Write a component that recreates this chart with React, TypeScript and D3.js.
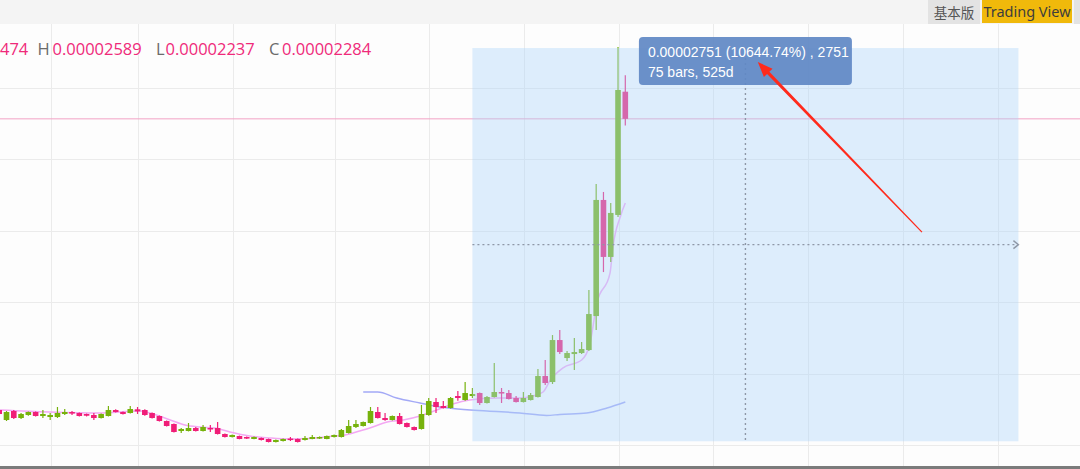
import { useEffect, useRef } from 'react';
import * as d3 from 'd3';

// weekly candles, prices in units of 1e-8
const opens = [245, 175, 238, 189, 210, 231, 203, 196, 196, 217, 231, 224, 217, 210, 189, 203, 245, 231, 224, 250, 245, 224, 203, 168, 147, 98, 98, 119, 98, 119, 119, 77, 56, 63, 56, 42, 49, 42, 21, 28, 45, 42, 35, 42, 45, 42, 56, 56, 84, 126, 133, 154, 231, 189, 175, 203, 154, 126, 112, 210, 301, 273, 259, 343, 315, 343, 364, 294, 336, 371, 364, 329, 301, 315, 336, 483, 441, 735, 609, 637, 644, 665, 903, 1716, 1317, 1611, 2474];
const highs = [252, 238, 245, 224, 235, 235, 245, 224, 266, 252, 238, 228, 220, 224, 220, 273, 250, 235, 273, 266, 250, 228, 207, 172, 150, 119, 154, 126, 140, 140, 161, 80, 74, 66, 60, 60, 52, 45, 38, 45, 56, 45, 63, 70, 60, 66, 74, 112, 175, 175, 165, 266, 266, 224, 207, 224, 158, 130, 280, 329, 329, 308, 336, 378, 441, 399, 368, 343, 574, 399, 385, 343, 371, 364, 532, 595, 770, 805, 658, 749, 721, 1085, 1828, 1772, 1695, 2787, 2589];
const lows = [210, 168, 182, 182, 205, 200, 189, 175, 189, 210, 210, 200, 200, 175, 185, 200, 228, 214, 220, 217, 205, 185, 165, 130, 88, 84, 95, 95, 95, 91, 74, 53, 53, 40, 42, 40, 32, 18, 18, 25, 28, 18, 32, 40, 42, 40, 53, 53, 80, 119, 130, 150, 185, 170, 172, 143, 122, 101, 108, 205, 224, 255, 255, 310, 310, 329, 280, 290, 332, 294, 318, 297, 297, 311, 332, 420, 427, 637, 588, 525, 637, 658, 805, 1211, 1282, 1597, 2237];
const closes = [217, 231, 189, 217, 231, 203, 217, 210, 224, 231, 220, 203, 205, 189, 217, 245, 231, 217, 252, 235, 210, 189, 168, 133, 91, 112, 119, 98, 126, 112, 77, 56, 70, 42, 45, 56, 35, 21, 35, 42, 38, 21, 49, 56, 56, 63, 70, 105, 133, 147, 161, 238, 189, 175, 203, 147, 126, 105, 217, 308, 266, 259, 329, 329, 364, 357, 294, 336, 371, 364, 322, 301, 329, 350, 483, 434, 735, 651, 644, 651, 672, 917, 1716, 1317, 1625, 2486, 2284];

// moving averages: bar index / price
const maFastIdx = [0.1, 6.9, 13.7, 19.3, 20.7, 23.5, 25.5, 27.6, 29.6, 31.7, 34.4, 37.2, 39.9, 42.7, 45.4, 47.5, 49.5, 50.9, 53.3, 55.5, 57.8, 60.1, 62.3, 64.6, 68.4, 71.5, 73.3, 74.7, 75.7, 77.4, 80.0, 81.1, 82.1, 83.9, 84.3, 85.3, 86];
const maFastVal = [245, 231, 224, 238, 224, 175, 140, 126, 119, 91, 63, 49, 42, 45, 60, 70, 98, 119, 161, 175, 203, 245, 287, 315, 329, 329, 343, 371, 455, 539, 595, 700, 994, 1204, 1387, 1597, 1695];
const maSlowIdx = [50.0, 52.0, 54.6, 57.8, 60.1, 62.3, 67.0, 71.5, 75.2, 77.0, 80.7, 83.5, 86];
const maSlowVal = [371, 371, 329, 294, 270, 256, 238, 224, 207, 214, 224, 259, 301];

const priceTicks = [0, 500, 1000, 1500, 2000, 2500, 3000];
const timeTicks = [7.1, 19, 32.1, 46.1, 59.1, 72.1, 85.1, 98.1, 111.1, 124.1, 137.2];

// legend, only the visible part of the open value is shown
const legendLabels = ['', 'H', 'L', 'C'];
const legendValues = ['474', '0.00002589', '0.00002237', '0.00002284'];

// date/price range tool
const rangeBars = [65, 140];
const rangePrices = [26, 2780];
const rangeText = ['0.00002751 (10644.74%) , 2751', '75 bars, 525d'];

// red annotation arrow (bar index, price)
const arrowTail = [126.75, 1491];
const arrowHead = [104.2, 2682];

const WIDTH = 1080;
const HEIGHT = 469;

export default function App() {
  const svgRef = useRef<SVGSVGElement>(null);

  useEffect(() => {
    document.body.style.margin = '0';
    if (!svgRef.current) return;
    const svg = d3.select(svgRef.current);
    svg.selectAll('*').remove();

    const step = 7.28;
    const lastX = 625.3;
    const n = closes.length;
    const x = d3.scaleLinear().domain([0, n - 1]).range([lastX - step * (n - 1), lastX]);
    const y = d3.scaleLinear().domain([0, 3000]).range([445, 16.6]);

    const plotTop = 24;
    const plotBottom = 466;

    svg.append('rect').attr('width', WIDTH).attr('height', HEIGHT).attr('fill', '#fdfdfd');

    // grid
    const grid = svg.append('g').attr('stroke', '#ebebeb').attr('stroke-width', 1);
    grid.selectAll('line.v')
      .data(timeTicks)
      .enter()
      .append('line')
      .attr('x1', d => Math.round(x(d)) + 0.5)
      .attr('x2', d => Math.round(x(d)) + 0.5)
      .attr('y1', plotTop)
      .attr('y2', plotBottom);
    grid.selectAll('line.h')
      .data(priceTicks)
      .enter()
      .append('line')
      .attr('x1', 0)
      .attr('x2', WIDTH)
      .attr('y1', d => Math.round(y(d)) + 0.5)
      .attr('y2', d => Math.round(y(d)) + 0.5);

    // last price line
    svg.append('line')
      .attr('x1', 0)
      .attr('x2', WIDTH)
      .attr('y1', y(closes[n - 1]))
      .attr('y2', y(closes[n - 1]))
      .attr('stroke', '#f3a3c6')
      .attr('stroke-width', 1);

    // moving averages
    const line = d3.line<number>()
      .x(d => x(d))
      .curve(d3.curveMonotoneX);
    svg.append('path')
      .attr('d', line.y((_, i) => y(maFastVal[i]))(maFastIdx))
      .attr('fill', 'none')
      .attr('stroke', '#f3a8f3')
      .attr('stroke-width', 1.5);
    svg.append('path')
      .attr('d', line.y((_, i) => y(maSlowVal[i]))(maSlowIdx))
      .attr('fill', 'none')
      .attr('stroke', '#a3a9f6')
      .attr('stroke-width', 1.5);

    // candles
    const up = '#76b20c';
    const down = '#f01e78';
    const bodyW = 5.6;
    const idx = d3.range(n);
    const candles = svg.append('g');
    candles.selectAll('line')
      .data(idx)
      .enter()
      .append('line')
      .attr('x1', i => x(i))
      .attr('x2', i => x(i))
      .attr('y1', i => y(highs[i]))
      .attr('y2', i => y(lows[i]))
      .attr('stroke', i => (closes[i] >= opens[i] ? up : down))
      .attr('stroke-width', 1.2);
    candles.selectAll('rect')
      .data(idx)
      .enter()
      .append('rect')
      .attr('x', i => x(i) - bodyW / 2)
      .attr('y', i => y(Math.max(opens[i], closes[i])))
      .attr('width', bodyW)
      .attr('height', i => Math.max(1.5, Math.abs(y(opens[i]) - y(closes[i]))))
      .attr('fill', i => (closes[i] >= opens[i] ? up : down));

    // range box
    const bx0 = x(rangeBars[0]);
    const bx1 = x(rangeBars[1]);
    const by0 = y(rangePrices[1]);
    const by1 = y(rangePrices[0]);
    svg.append('rect')
      .attr('x', bx0)
      .attr('y', by0)
      .attr('width', bx1 - bx0)
      .attr('height', by1 - by0)
      .attr('fill', 'rgb(173,212,250)')
      .attr('fill-opacity', 0.4);

    const midX = (bx0 + bx1) / 2;
    const midY = y((rangePrices[0] + rangePrices[1]) / 2);
    const dash = svg.append('g')
      .attr('stroke', '#8e97a6')
      .attr('stroke-width', 1.4)
      .attr('fill', 'none');
    dash.append('line')
      .attr('x1', bx0).attr('x2', bx1 - 1)
      .attr('y1', midY).attr('y2', midY)
      .attr('stroke-dasharray', '2,3');
    dash.append('line')
      .attr('x1', midX).attr('x2', midX)
      .attr('y1', by0).attr('y2', by1)
      .attr('stroke-dasharray', '2,3');
    dash.append('path')
      .attr('d', `M${bx1 - 5},${midY - 4}L${bx1},${midY}L${bx1 - 5},${midY + 4}`);

    // range label
    const tipW = 213;
    const tipH = 48;
    const tipY = by0 - 11;
    svg.append('rect')
      .attr('x', midX - tipW / 2)
      .attr('y', tipY)
      .attr('width', tipW)
      .attr('height', tipH)
      .attr('rx', 4)
      .attr('fill', '#5f88c4')
      .attr('fill-opacity', 0.92);
    svg.selectAll('text.tip')
      .data(rangeText)
      .enter()
      .append('text')
      .attr('x', midX - tipW / 2 + 9)
      .attr('y', (_, i) => tipY + 20 + i * 19.5)
      .attr('fill', '#ffffff')
      .attr('font-family', '"Liberation Sans", Arial, sans-serif')
      .attr('font-size', 14)
      .text(d => d);

    // red arrow
    const ax0 = x(arrowTail[0]);
    const ay0 = y(arrowTail[1]);
    const ax1 = x(arrowHead[0]);
    const ay1 = y(arrowHead[1]);
    const len = Math.hypot(ax1 - ax0, ay1 - ay0);
    const ux = (ax1 - ax0) / len;
    const uy = (ay1 - ay0) / len;
    const px = -uy;
    const py = ux;
    const headL = 15;
    const bx = ax1 - ux * headL;
    const byy = ay1 - uy * headL;
    const pts: [number, number][] = [
      [ax0 + px * 0.6, ay0 + py * 0.6],
      [bx + px * 1.6, byy + py * 1.6],
      [bx + px * 6, byy + py * 6],
      [ax1, ay1],
      [bx - px * 6, byy - py * 6],
      [bx - px * 1.6, byy - py * 1.6],
      [ax0 - px * 0.6, ay0 - py * 0.6],
    ];
    svg.append('path')
      .attr('d', 'M' + pts.map(p => p.join(',')).join('L') + 'Z')
      .attr('fill', '#ff2a1c');

    // OHLC legend
    const legendFont = '"Open Sans", "Noto Sans", sans-serif';
    const labelX = [0, 37.5, 156, 269];
    const valueX = [0, 52.5, 165.5, 282];
    const lg = svg.append('g').attr('font-family', legendFont).attr('font-size', 16.5);
    legendLabels.forEach((l, i) => {
      if (l) {
        lg.append('text').attr('x', labelX[i]).attr('y', 55).attr('fill', '#6b6b6b').text(l);
      }
      lg.append('text')
        .attr('x', valueX[i])
        .attr('y', 55)
        .attr('fill', '#ef2a7a')
        .text(legendValues[i]);
    });

    // header strip with buttons
    svg.append('rect').attr('width', WIDTH).attr('height', plotTop).attr('fill', '#f4f4f4');
    svg.append('rect').attr('x', 928).attr('y', 0).attr('width', 52).attr('height', 24).attr('fill', '#e3e3e3');
    svg.append('text')
      .attr('x', 954).attr('y', 17.5)
      .attr('text-anchor', 'middle')
      .attr('font-family', '"Noto Sans CJK SC", sans-serif')
      .attr('font-size', 13.5)
      .attr('fill', '#555')
      .text('基本版');
    svg.append('rect').attr('x', 982).attr('y', 0).attr('width', 90).attr('height', 23).attr('fill', '#f0b90b');
    svg.append('text')
      .attr('x', 1027).attr('y', 17)
      .attr('text-anchor', 'middle')
      .attr('font-family', '"Noto Sans", "Open Sans", sans-serif')
      .attr('font-size', 14.5)
      .attr('fill', '#3d3d3d')
      .text('Trading View');
    svg.append('rect').attr('x', 1074).attr('y', 0).attr('width', 20).attr('height', 24).attr('fill', '#e3e3e3');

    // bottom border
    svg.append('rect').attr('x', 0).attr('y', plotBottom).attr('width', WIDTH).attr('height', HEIGHT - plotBottom).attr('fill', '#7b7b7b');
  }, []);

  return (
    <div style={{ width: WIDTH, height: HEIGHT, overflow: 'hidden' }}>
      <svg ref={svgRef} width={WIDTH} height={HEIGHT} style={{ display: 'block' }}></svg>
    </div>
  );
}
